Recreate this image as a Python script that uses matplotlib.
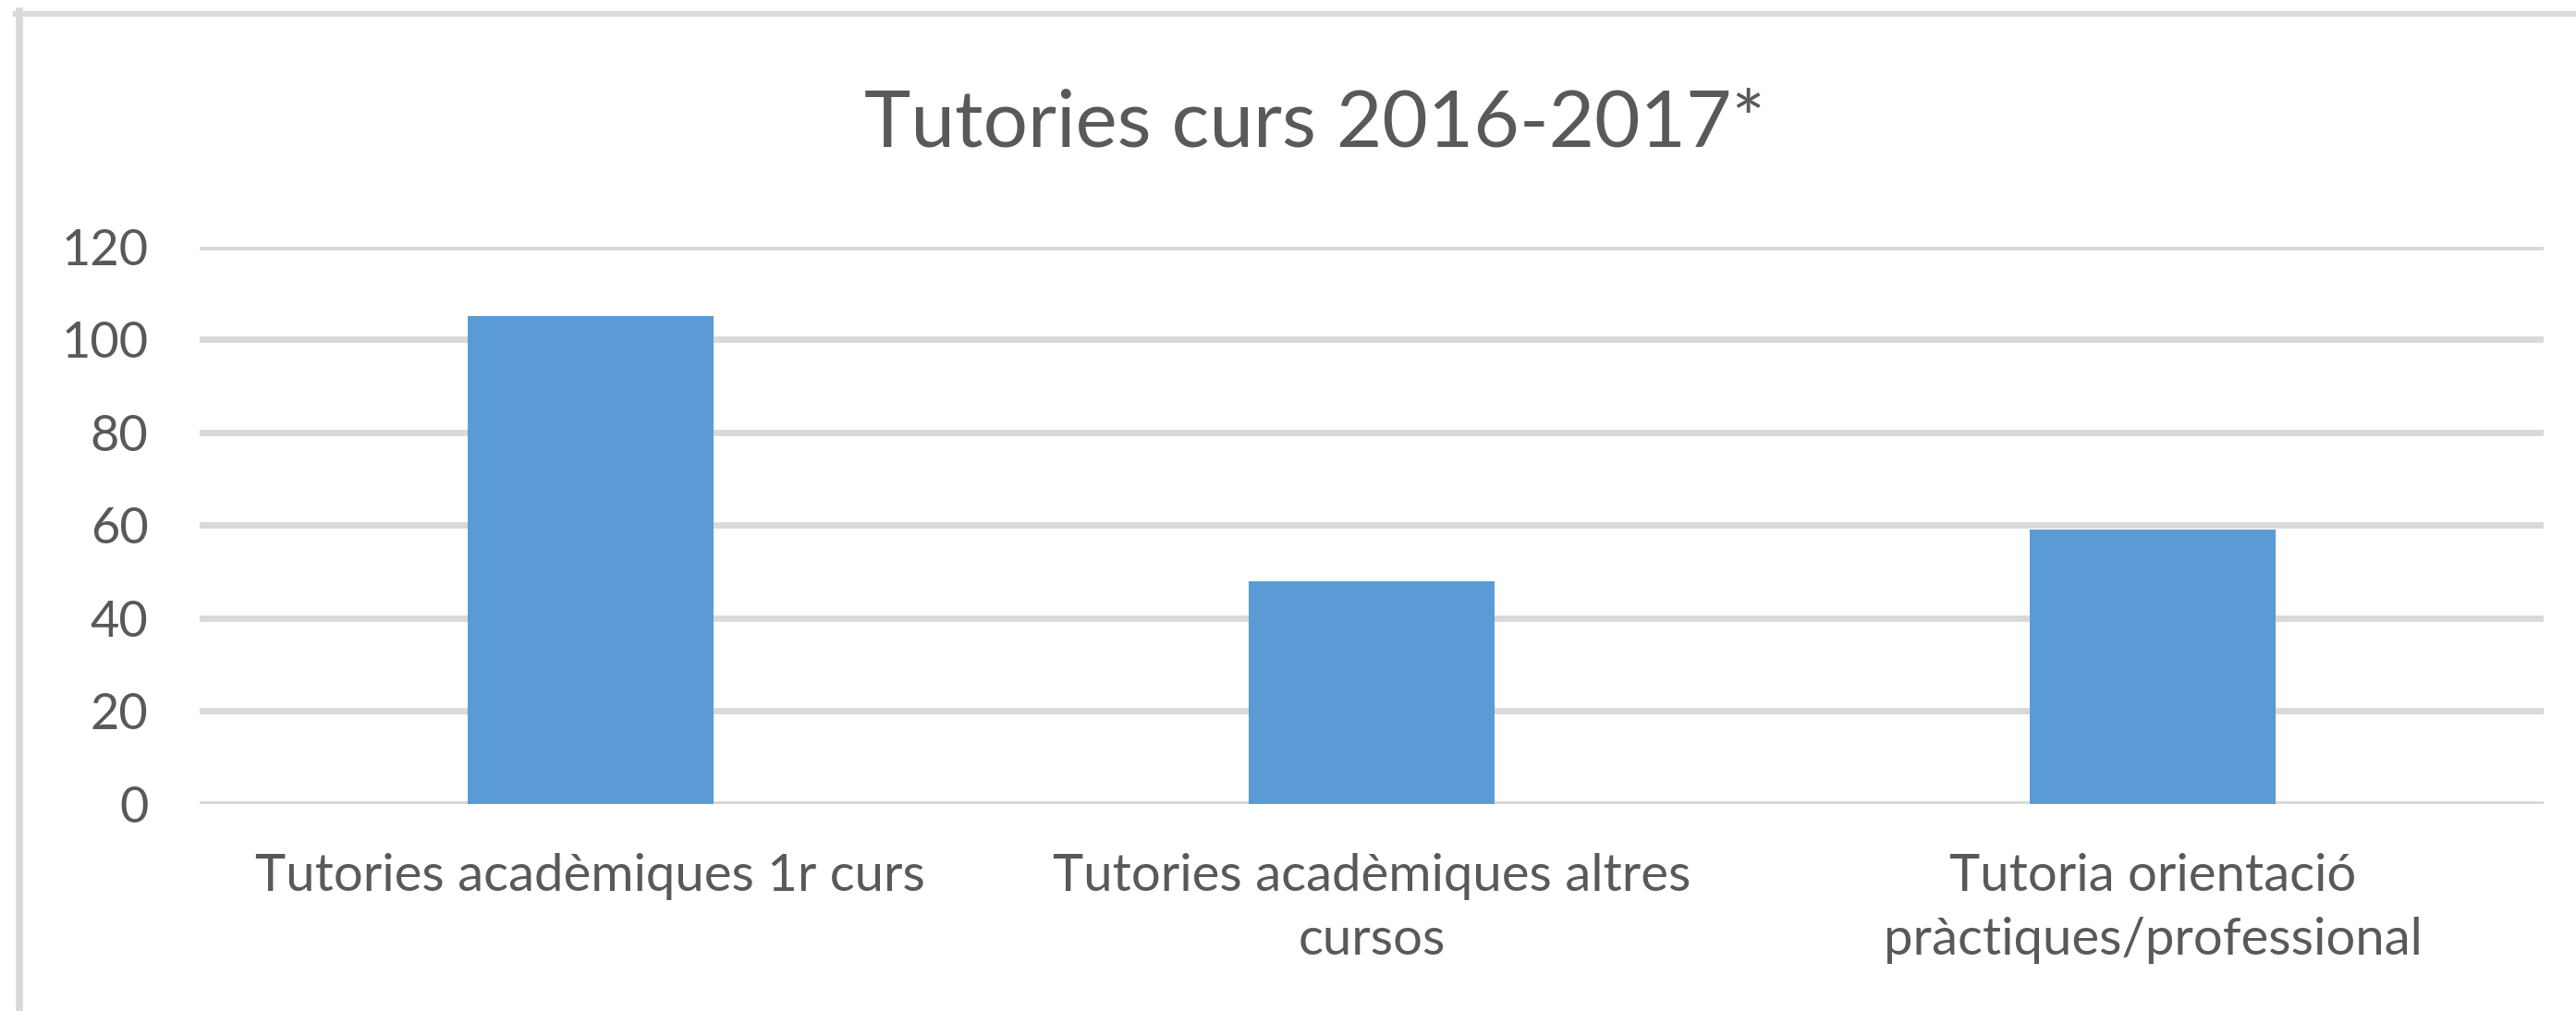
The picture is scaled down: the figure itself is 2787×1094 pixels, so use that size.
import matplotlib.pyplot as plt
from matplotlib.lines import Line2D

plt.rcParams["font.family"] = ["Lato", "DejaVu Sans"]

categories = [
    "Tutories acadèmiques 1r curs",
    "Tutories acadèmiques altres\ncursos",
    "Tutoria orientació\npràctiques/professional",
]
values = [105, 48, 59]
yticks = [0, 20, 40, 60, 80, 100, 120]

text_color = "#595959"
grid_color = "#D9D9D9"
bar_color = "#5B9BD5"

fig = plt.figure(figsize=(27.87, 10.94), dpi=100)
ax = fig.add_axes([0.0775, 0.2048, 0.9099, 0.5512])

x = list(range(len(categories)))
ax.bar(x, values, width=0.315, color=bar_color, zorder=3)

ax.set_xlim(-0.5, len(categories) - 0.5)
ax.set_ylim(0, 120)
ax.set_yticks(yticks)
ax.set_xticks(x)
ax.set_xticklabels(categories, linespacing=1.45, fontsize=40.5)

ax.yaxis.grid(True, color=grid_color, linewidth=5, zorder=0)
ax.xaxis.grid(False)
for s in ax.spines.values():
    s.set_visible(False)
ax.tick_params(axis="both", length=0, colors=text_color)
ax.tick_params(axis="y", pad=40, labelsize=39)
ax.tick_params(axis="x", pad=38)

fig.text(0.5105, 0.855, "Tutories curs 2016-2017*", ha="center", va="baseline",
         fontsize=61.5, color=text_color)

# chart area border (only top and left edges visible in the crop)
fig.add_artist(Line2D([17 / 2787, 1.0], [1 - 14.5 / 1094, 1 - 14.5 / 1094],
                      color=grid_color, linewidth=4.5, transform=fig.transFigure))
fig.add_artist(Line2D([21 / 2787, 21 / 2787], [0.0, 1 - 12 / 1094],
                      color=grid_color, linewidth=5.5, transform=fig.transFigure))

fig.savefig("out.png", dpi=100, facecolor="white")
